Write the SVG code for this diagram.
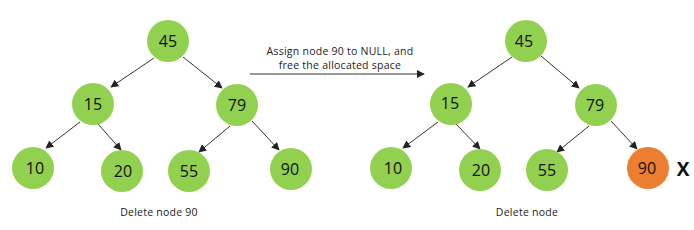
<svg xmlns="http://www.w3.org/2000/svg" width="694" height="230" viewBox="0 0 694 230">
<style>
.n{fill:#92d050}
.d{fill:#ed7d31}
.t{font-family:"Open Sans","Liberation Sans",sans-serif;font-size:16px;fill:#111;text-anchor:middle;dominant-baseline:central}
.l{font-family:"Open Sans","Liberation Sans",sans-serif;font-size:10.5px;letter-spacing:0.25px;fill:#222;text-anchor:middle}
.e{stroke:#333;stroke-width:1;fill:none;marker-end:url(#a)}
</style>
<defs>
<marker id="a" viewBox="0 0 10 10" refX="9" refY="5" markerWidth="8" markerHeight="8" orient="auto" markerUnits="userSpaceOnUse">
<path d="M0,0 L10,5 L0,10 z" fill="#222"/>
</marker>
</defs>
<rect width="694" height="230" fill="#fff"/>
<g id="connectors">
<line class="e" x1="154" y1="58" x2="111" y2="87"/>
<line class="e" x1="183" y1="57" x2="222" y2="88"/>
<line class="e" x1="80" y1="122" x2="46" y2="148"/>
<line class="e" x1="98" y1="124" x2="121" y2="150"/>
<line class="e" x1="230" y1="126" x2="199" y2="152"/>
<line class="e" x1="252" y1="121" x2="279" y2="150"/>
<line class="e" x1="250" y1="74" x2="424" y2="74"/>
<line class="e" x1="512" y1="57" x2="468" y2="87"/>
<line class="e" x1="541" y1="56" x2="579" y2="88"/>
<line class="e" x1="438" y1="122" x2="403" y2="148"/>
<line class="e" x1="456" y1="124" x2="480" y2="149"/>
<line class="e" x1="589" y1="126" x2="557" y2="152"/>
<line class="e" x1="611" y1="121" x2="637" y2="149"/>
</g>
<g id="L45"><circle class="n" cx="168" cy="41" r="21"/><text class="t" x="168" y="41">45</text></g>
<g id="L15"><circle class="n" cx="93" cy="104" r="21"/><text class="t" x="93" y="104">15</text></g>
<g id="L79"><circle class="n" cx="237" cy="105" r="21"/><text class="t" x="237" y="105">79</text></g>
<g id="L10"><circle class="n" cx="33" cy="168" r="21"/><text class="t" x="35" y="168">10</text></g>
<g id="L20"><circle class="n" cx="122" cy="171" r="21"/><text class="t" x="123" y="171">20</text></g>
<g id="L55"><circle class="n" cx="189" cy="171" r="21"/><text class="t" x="189" y="171">55</text></g>
<g id="L90"><circle class="n" cx="291" cy="169" r="21"/><text class="t" x="290" y="169">90</text></g>
<g id="R45"><circle class="n" cx="526" cy="41" r="21"/><text class="t" x="524" y="41">45</text></g>
<g id="R15"><circle class="n" cx="451" cy="104" r="21"/><text class="t" x="450" y="103">15</text></g>
<g id="R79"><circle class="n" cx="596" cy="105" r="21"/><text class="t" x="595" y="105">79</text></g>
<g id="R10"><circle class="n" cx="391" cy="168" r="21"/><text class="t" x="393" y="168">10</text></g>
<g id="R20"><circle class="n" cx="480" cy="170" r="21"/><text class="t" x="481" y="170">20</text></g>
<g id="R55"><circle class="n" cx="547" cy="170" r="21"/><text class="t" x="547" y="170">55</text></g>
<g id="R90"><circle class="d" cx="648" cy="168" r="21"/><text class="t" x="647" y="168">90</text></g>
<g id="labels">
<text class="l" x="340" y="55">Assign node 90 to NULL, and</text>
<text class="l" x="340" y="69">free the allocated space</text>
<text class="l" x="159" y="216">Delete node 90</text>
<text class="l" x="527" y="216">Delete node</text>
<text x="683" y="176" style="font-family:'Open Sans','Liberation Sans',sans-serif;font-size:19px;font-weight:bold;fill:#111;text-anchor:middle">X</text>
</g>
</svg>
